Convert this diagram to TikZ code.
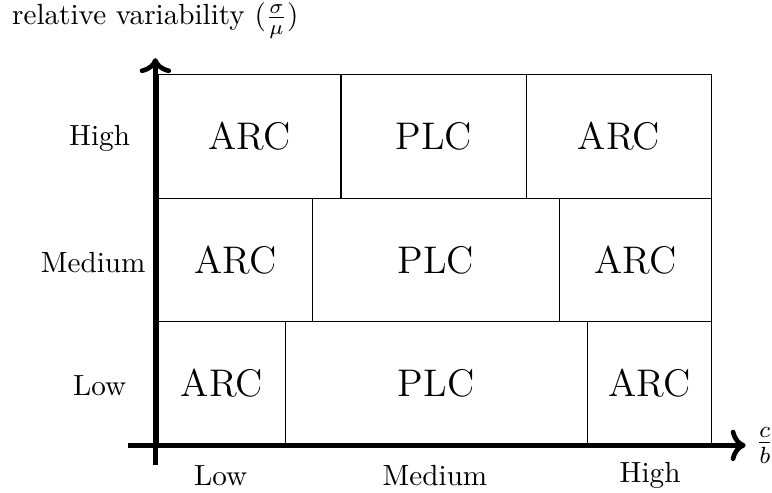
\documentclass[tikz,border=0pt]{standalone}
\usepackage{amsmath,amssymb}
\usepackage{tikz}
\usetikzlibrary{arrows.meta,positioning}

\begin{document}
\begin{tikzpicture}[scale=0.96,
  axis/.style={line width=1.6pt,->},
  cellline/.style={thin,black},
  celltext/.style={font=\fontsize{13.2}{16}\selectfont}]
  \useasboundingbox (-1.95,-0.59) rectangle (7.74,5.59);
  % Cells: one row per variability level, dividers differ per row
  \foreach \r/\a/\b in {0/1.63/5.42,1/1.97/5.07,2/2.33/4.66}{
    \draw[cellline] (0.04,{1.55*\r}) rectangle (\a,{1.55*(\r+1)});
    \draw[cellline] (\a,{1.55*\r}) rectangle (\b,{1.55*(\r+1)});
    \draw[cellline] (\b,{1.55*\r}) rectangle (6.98,{1.55*(\r+1)});
    \node[celltext] (arcL\r) at ({(0.04+\a)/2},{1.55*\r+0.775}) {ARC};
    \node[celltext] (plc\r) at ({(\a+\b)/2},{1.55*\r+0.775}) {PLC};
    \node[celltext] (arcR\r) at ({(\b+6.98)/2},{1.55*\r+0.775}) {ARC};
  }
  % Axes
  \coordinate (xstart) at (-0.34,0);
  \coordinate (xend) at (7.41,0);
  \coordinate (ystart) at (0,-0.25);
  \coordinate (yend) at (0,4.86);
  \draw[axis] (xstart) -- (xend);
  \draw[axis] (ystart) -- (yend);
  \node[font=\large] (xlabel) at (7.65,0) {$\frac{c}{b}$};
  \node (ylabel) at (0,5.33) {relative variability ($\frac{\sigma}{\mu}$)};
  % Level labels
  \node (yLow) at (-0.70,0.75) {Low};
  \node (yMedium) at (-0.78,2.30) {Medium};
  \node (yHigh) at (-0.70,3.85) {High};
  \node (xLow) at (0.82,-0.38) {Low};
  \node (xMedium) at (3.51,-0.38) {Medium};
  \node (xHigh) at (6.21,-0.38) {High};
\end{tikzpicture}
\end{document}
